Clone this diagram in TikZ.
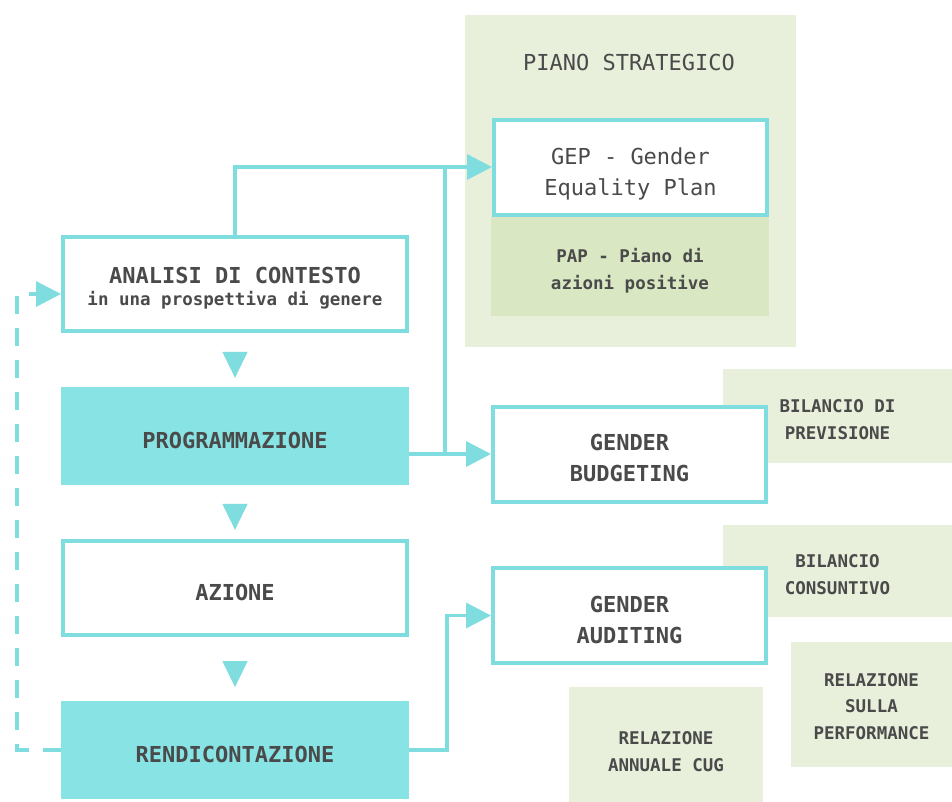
\documentclass[tikz,border=0pt]{standalone}
\usepackage{fontspec}
\setmonofont{DejaVu Sans Mono}
\usepackage{xcolor}
\definecolor{gdteal}{HTML}{7FDDDF}
\definecolor{gdfill}{HTML}{87E3E4}
\definecolor{gdgreen}{HTML}{E8F0DC}
\definecolor{gdpap}{HTML}{D9E7C3}
\definecolor{gdtext}{HTML}{4A4A4A}
\usepackage{tikz}
\usetikzlibrary{arrows.meta,positioning,shapes.geometric,calc}
\newcommand{\gdbig}{\ttfamily\fontsize{22}{31}\selectfont}
\newcommand{\gdsmall}{\ttfamily\fontsize{17.5}{26.5}\selectfont}
\tikzset{
  gdbox/.style={draw=gdteal,line width=4pt,fill=white,minimum width=344pt,minimum height=94pt,align=center,text=gdtext,font=\gdbig\bfseries,text height=25pt,text depth=0pt},
  gdfilled/.style={gdbox,fill=gdfill,draw=gdfill},
  gdside/.style={draw=gdteal,line width=4pt,fill=white,minimum width=273pt,minimum height=95pt,align=center,text=gdtext,font=\gdbig\bfseries,text height=55pt,text depth=0pt},
  gdnote/.style={fill=gdgreen,inner sep=0pt,align=center,text=gdtext,font=\gdsmall\bfseries,text height=46pt,text depth=0pt},
  gdflow/.style={-{Triangle[length=25pt,width=25pt]},draw=gdteal,line width=3.5pt},
  gdline/.style={draw=gdteal,line width=3.5pt},
  gdloop/.style={gdflow,dash pattern=on 18pt off 14pt},
  gdmark/.style={isosceles triangle,isosceles triangle apex angle=52,shape border rotate=270,fill=gdteal,inner sep=0pt,minimum height=26pt},
}

\begin{document}
\begin{tikzpicture}[x=1pt,y=-1pt]
\useasboundingbox (0,0) rectangle (952,801);
% piano strategico
\node[fill=gdgreen,minimum width=331pt,minimum height=332pt] (piano) at (630.5,181) {};
\node[font=\gdbig,text=gdtext] (pianotitle) at (629,62) {PIANO STRATEGICO};
\node[gdnote,fill=gdpap,minimum width=278pt,minimum height=99pt,text height=45.5pt] (pap) at (630,266.5) {PAP - Piano di\\azioni positive};
\node[gdside,font=\gdbig,text height=56pt] (gep) at (630.5,167) {GEP - Gender\\Equality Plan};
% documenti
\node[gdnote,minimum width=229pt,minimum height=94pt] (prev) at (837.5,416) {BILANCIO DI\\PREVISIONE};
\node[gdnote,minimum width=229pt,minimum height=92pt] (cons) at (837.5,571) {BILANCIO\\CONSUNTIVO};
\node[gdnote,minimum width=161pt,minimum height=125pt,text height=69.5pt] (perf) at (871.5,704.5) {RELAZIONE\\SULLA\\PERFORMANCE};
\node[gdnote,minimum width=194pt,minimum height=128pt,text height=40pt] (cug) at (666,751) {RELAZIONE\\ANNUALE CUG};
\node[gdside,text height=54pt] (bud) at (629.5,454) {GENDER\\BUDGETING};
\node[gdside] (aud) at (629.5,615.5) {GENDER\\AUDITING};
% ciclo
\node[gdbox,text height=42.5pt] (ana) at (235,284) {ANALISI DI CONTESTO\\[-9pt]\gdsmall in una prospettiva di genere};
\node[gdfilled] (prog) at (235,435.5) {PROGRAMMAZIONE};
\node[gdbox] (az) at (235,588) {AZIONE};
\node[gdfilled] (rend) at (235,750) {RENDICONTAZIONE};
\path (ana.south) -- node[gdmark] {} (prog.north);
\path (prog.south) -- node[gdmark] {} (az.north);
\path (az.south) -- node[gdmark] {} (rend.north);
% connettori
\draw[gdflow] (ana.north) |- (gep.west);
\draw[gdline] ($(prog.east |- bud.west)+(36,0)$) -- ($(prog.east |- gep.west)+(36,0)$);
\draw[gdflow] (prog.east |- bud.west) -- (bud.west);
\draw[gdflow] (rend.east) -- ++(38,0) |- (aud.west);
\draw[gdloop] (rend.west) -- ++(-44,0) |- ([yshift=-10pt]ana.west);
\end{tikzpicture}
\end{document}
